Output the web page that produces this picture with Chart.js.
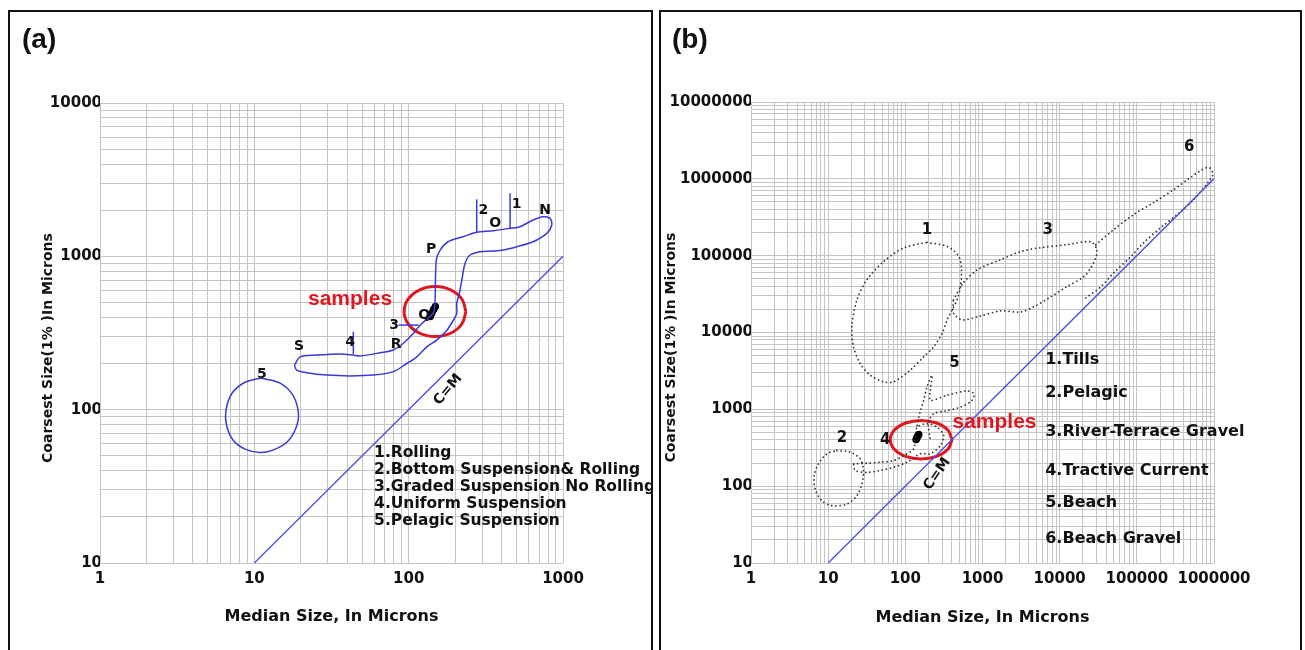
<!DOCTYPE html>
<html>
<head>
<meta charset="utf-8">
<script src="https://cdn.jsdelivr.net/npm/chart.js@4.4.0/dist/chart.umd.min.js"></script>
<style>
  html, body { margin: 0; padding: 0; background: #fff; overflow: hidden; }
  body { width: 1305px; height: 650px; position: relative; }
  .panel { position: absolute; top: 10px; height: 700px; border: 2px solid #111; }
  #panel-a { left: 8px; width: 641px; }
  #panel-b { left: 659px; width: 639px; }
  .panel canvas { position: absolute; left: 0; top: 0; }
  .panel-tag { position: absolute; top: 11px; font: bold 28px "Liberation Sans", Arial, sans-serif; color: #111; z-index: 2; }
</style>
</head>
<body>
<div class="panel" id="panel-a">
  <canvas id="chartA" width="641" height="638"></canvas>
  <div class="panel-tag" style="left:12px">(a)</div>
</div>
<div class="panel" id="panel-b">
  <canvas id="chartB" width="639" height="638"></canvas>
  <div class="panel-tag" style="left:11px">(b)</div>
</div>
<script>
// ==================== data: panel (a) ====================

const tickLabelsAX = [1, 10, 100, 1000];
const tickLabelsAY = [10, 100, 1000, 10000];

// C=M reference line
const cmMedianA = [10, 1000];
const cmCoarsestA = [10, 1000];

// transport field outline (S - R - Q - P - O - N and back)
const fieldMedianA = [18.2, 19.8, 25.4, 35.9, 43.8, 48.4, 65.3, 79.6, 92.4, 107, 119, 144, 148, 151, 160, 180, 225, 276, 352, 454, 527, 640, 743, 825, 846, 785, 640, 502, 411, 352, 290, 250, 232, 221, 213, 205, 205, 195, 177, 152, 131, 113, 97.2, 79.6, 59.0, 41.7, 29.5, 21.9, 18.8, 18.2];
const fieldCoarsestA = [195, 221, 227, 231, 227, 224, 235, 245, 271, 314, 357, 427, 493, 946, 1099, 1245, 1342, 1434, 1469, 1523, 1561, 1726, 1813, 1769, 1600, 1412, 1245, 1155, 1099, 1083, 1072, 1020, 900, 700, 574, 494, 425, 384, 330, 284, 257, 221, 200, 177, 168, 166, 168, 174, 181, 195];

// pelagic suspension loop (5)
const pelagicMedianA = [11.05, 14.7, 17.8, 19.3, 18.6, 16.3, 13.2, 10.9, 8.70, 7.27, 6.60, 6.55, 7.17, 8.70, 11.05];
const pelagicCoarsestA = [161, 149, 124, 95, 75.9, 61.5, 54.5, 52.5, 55.3, 63.4, 79.4, 99.4, 128, 151, 161];

// zone boundary marks
const mark4Median = [43.8, 43.8];
const mark4Coarsest = [231, 322];
const mark3Median = [85.7, 116];
const mark3Coarsest = [356, 356];
const mark2Median = [276, 276];
const mark2Coarsest = [1434, 2353];
const mark1Median = [454, 454];
const mark1Coarsest = [1523, 2576];

// red ring around the samples
const ringMedianA = [235, 221, 187, 148, 118, 99.4, 93.4, 99.4, 118, 148, 187, 221, 235];
const ringCoarsestA = [436, 527, 605, 635, 605, 527, 436, 362, 315, 300, 315, 362, 436];

const zoneLabelsA = ['S', '4', 'R', '3', 'Q', 'P', '2', 'O', '1', 'N', '5'];
const zoneLabelXA = [19.5, 41.7, 82.8, 80.4, 126, 140, 305, 363, 501, 766, 11.2];
const zoneLabelYA = [258, 275, 267, 356, 414, 1110, 2003, 1641, 2193, 1983, 171];

const legendA = ['1.Rolling', '2.Bottom Suspension& Rolling', '3.Graded Suspension No Rolling', '4.Uniform Suspension', '5.Pelagic Suspension'];
const legendXA = 59.7;
const legendYA = [52.1, 40.3, 31.3, 24.2, 18.9];

// ==================== data: panel (b) ====================

const tickLabelsBX = [1, 10, 100, 1000, 10000, 100000, 1000000];
const tickLabelsBY = [10, 100, 1000, 10000, 100000, 1000000, 10000000];

const cmMedianB = [10, 1000000];
const cmCoarsestB = [10, 1000000];

// 1. Tills
const tillsMedian = [191, 348, 493, 534, 518, 469, 404, 348, 300, 233, 173, 116, 70.5, 52.3, 35.1, 26.0, 21.3, 20.3, 23.6, 31.8, 52.3, 95.1, 191];
const tillsCoarsest = [149000, 132000, 98000, 65600, 39700, 26600, 19700, 14600, 9770, 6520, 4830, 3240, 2280, 2280, 2780, 3950, 6520, 11900, 26600, 48500, 84100, 126000, 149000];

// 2. Pelagic
const pelagicMedianB = [13.0, 19.3, 26.0, 28.7, 27.4, 23.6, 17.5, 11.2, 8.28, 6.78, 6.58, 7.48, 9.62, 13.0];
const pelagicCoarsestB = [291, 277, 227, 160, 107, 75.2, 58.5, 55.6, 64.6, 91.9, 137, 195, 264, 291];

// 3. River-Terrace Gravel
const terraceMedian = [420, 567, 861, 1710, 3120, 5670, 12300, 25300, 30300, 29400, 25300, 20500, 12300, 7640, 4590, 3120, 1710, 942, 550, 420, 420];
const terraceCoarsest = [26600, 44400, 65600, 88700, 113000, 127000, 139000, 152000, 120000, 94100, 69700, 53100, 39300, 29100, 21500, 18500, 19100, 16400, 14600, 18000, 26600];

// 4. Tractive Current
const tractiveMedian = [21.3, 31.8, 47.4, 70.5, 105, 128, 135, 142, 191, 258, 314, 285, 211, 157, 105, 70.5, 47.4, 31.8, 22.4, 21.3];
const tractiveCoarsest = [195, 199, 205, 215, 264, 306, 434, 587, 650, 587, 457, 338, 264, 264, 205, 176, 160, 151, 160, 195];

// 5. Beach
const beachMedian = [142, 157, 173, 191, 222, 211, 211, 348, 633, 771, 735, 518, 331, 233, 199, 211];
const beachCoarsest = [618, 970, 1312, 1960, 2780, 1770, 1312, 1524, 1734, 1604, 1312, 1072, 950, 879, 676, 394];

// 6. Beach Gravel
const gravelMedian = [29400, 50200, 91400, 166000, 303000, 460000, 678000, 861000, 971000, 836000, 550000, 373000, 205000, 123000, 83600, 50200, 34100, 21800];
const gravelCoarsest = [139000, 219000, 344000, 493000, 729000, 985000, 1290000, 1410000, 1150000, 900000, 540000, 376000, 232000, 148000, 97000, 60000, 39300, 28200];

const ringMedianB = [403, 356, 254, 160, 101, 72.1, 63.8, 72.1, 101, 160, 254, 356, 403];
const ringCoarsestB = [403, 538, 664, 718, 664, 538, 403, 302, 244, 226, 244, 302, 403];

const zoneLabelsB = ['1', '3', '6', '5', '2', '4'];
const zoneLabelXB = [191, 6980, 478000, 433, 15.1, 55.0];
const zoneLabelYB = [215000, 215000, 2560000, 4030, 427, 394];

const legendB = ['1.Tills', '2.Pelagic', '3.River-Terrace Gravel', '4.Tractive Current', '5.Beach', '6.Beach Gravel'];
const legendXB = 6500;
const legendYB = [4370, 1620, 515, 160, 60.9, 20.6];

// samples (same points on both panels)
const sampleMedian = [138, 141, 145, 149];
const sampleCoarsest = [405, 425, 450, 470];

// ==================== styles ====================

const FONT = '"DejaVu Sans", Verdana, sans-serif';
const gridColor = '#c4c4c4';
const blue = '#3a3ad8';
const red = '#e2161f';
const ink = '#111';

// log grid values 1..9 x 10^n
function logGrid(min, max) {
  const values = [];
  for (let e = Math.round(Math.log10(min)); Math.pow(10, e) < max; e++) {
    for (let k = 1; k < 10; k++) values.push(k * Math.pow(10, e));
  }
  values.push(max);
  return values;
}

function toPoints(xs, ys) {
  return xs.map((x, i) => ({ x, y: ys[i] }));
}

function solid(xs, ys, color, width, tension) {
  return {
    data: toPoints(xs, ys), showLine: true, pointRadius: 0,
    borderColor: color, borderWidth: width, tension: tension, fill: false
  };
}

function dotted(xs, ys) {
  return {
    data: toPoints(xs, ys), showLine: true, pointRadius: 0,
    borderColor: '#333', borderWidth: 1.8, borderDash: [0.01, 4.2],
    borderCapStyle: 'round', tension: 0.3, fill: false
  };
}

function samplesSet() {
  return {
    data: toPoints(sampleMedian, sampleCoarsest), showLine: false,
    pointRadius: 3.8, pointBackgroundColor: '#000', pointBorderWidth: 0
  };
}

// text written at data coordinates
function notesPlugin(notes, yTitle) {
  return {
    id: 'notes',
    afterDatasetsDraw(chart) {
      const { ctx, chartArea, scales } = chart;
      ctx.save();
      notes.forEach(n => {
        ctx.save();
        ctx.translate(scales.x.getPixelForValue(n.x), scales.y.getPixelForValue(n.y));
        if (n.rotate) ctx.rotate(n.rotate * Math.PI / 180);
        ctx.font = n.font;
        ctx.fillStyle = n.color || ink;
        ctx.textAlign = n.align || 'center';
        ctx.textBaseline = 'middle';
        ctx.fillText(n.text, 0, 0);
        ctx.restore();
      });
      // y axis title
      ctx.translate(chartArea.left + yTitle.dx, (chartArea.top + chartArea.bottom) / 2 + yTitle.dy);
      ctx.rotate(-Math.PI / 2);
      ctx.font = 'bold 14px ' + FONT;
      ctx.fillStyle = ink;
      ctx.textAlign = 'center';
      ctx.textBaseline = 'middle';
      ctx.fillText('Coarsest Size(1% )In Microns', 0, 0);
      ctx.restore();
    }
  };
}

function buildOptions(cfg) {
  const tickFont = { family: FONT, size: 15, weight: 'bold' };
  return {
    responsive: false,
    animation: false,
    devicePixelRatio: 1,
    layout: { padding: { left: 0, top: cfg.top, right: cfg.right, bottom: 0 } },
    plugins: { legend: { display: false }, tooltip: { enabled: false } },
    scales: {
      x: {
        type: 'logarithmic', min: cfg.xMin, max: cfg.xMax,
        afterBuildTicks: s => { s.ticks = logGrid(cfg.xMin, cfg.xMax).map(v => ({ value: v })); },
        afterFit: s => { s.height = 87; },
        grid: { color: gridColor, lineWidth: 1, drawTicks: false },
        border: { display: false },
        ticks: {
          autoSkip: false, maxRotation: 0, minRotation: 0, padding: 7,
          color: ink, font: tickFont,
          callback: v => cfg.xLabels.includes(v) ? String(v) : ''
        },
        title: {
          display: true, text: 'Median Size, In Microns', color: ink,
          font: { family: FONT, size: 16, weight: 'bold' },
          padding: { top: 0, bottom: cfg.titleBottom }
        }
      },
      y: {
        type: 'logarithmic', min: cfg.yMin, max: cfg.yMax,
        afterBuildTicks: s => { s.ticks = logGrid(cfg.yMin, cfg.yMax).map(v => ({ value: v })); },
        afterFit: s => { s.width = 90; },
        grid: { color: gridColor, lineWidth: 1, drawTicks: false },
        border: { display: false },
        ticks: {
          autoSkip: false, padding: -2, color: ink, font: tickFont,
          callback: v => cfg.yLabels.includes(v) ? String(v) : ''
        }
      }
    }
  };
}

// ==================== panel (a) ====================

const notesA = [];
zoneLabelsA.forEach((t, i) => notesA.push({ text: t, x: zoneLabelXA[i], y: zoneLabelYA[i], font: 'bold 14px ' + FONT }));
legendA.forEach((t, i) => notesA.push({ text: t, x: legendXA, y: legendYA[i], font: 'bold 15.5px ' + FONT, align: 'left' }));
notesA.push({ text: 'samples', x: 41.7, y: 526, font: 'bold 21px "Liberation Sans", Arial, sans-serif', color: red });
notesA.push({ text: 'C=M', x: 180, y: 135, font: 'bold 14px ' + FONT, rotate: -50 });

new Chart(document.getElementById('chartA'), {
  type: 'scatter',
  data: {
    datasets: [
      solid(cmMedianA, cmCoarsestA, '#4a4ae8', 1.3, 0),
      solid(fieldMedianA, fieldCoarsestA, blue, 1.5, 0.3),
      solid(pelagicMedianA, pelagicCoarsestA, blue, 1.5, 0.35),
      solid(mark4Median, mark4Coarsest, blue, 1.5, 0),
      solid(mark3Median, mark3Coarsest, blue, 1.5, 0),
      solid(mark2Median, mark2Coarsest, blue, 1.5, 0),
      solid(mark1Median, mark1Coarsest, blue, 1.5, 0),
      solid(ringMedianA, ringCoarsestA, red, 3, 0.4),
      samplesSet()
    ]
  },
  options: buildOptions({
    xMin: 1, xMax: 1000, yMin: 10, yMax: 10000,
    xLabels: tickLabelsAX, yLabels: tickLabelsAY,
    top: 91, right: 88, titleBottom: 24
  }),
  plugins: [notesPlugin(notesA, { dx: -52, dy: 15 })]
});

// ==================== panel (b) ====================

const notesB = [];
zoneLabelsB.forEach((t, i) => notesB.push({ text: t, x: zoneLabelXB[i], y: zoneLabelYB[i], font: 'bold 15px ' + FONT }));
legendB.forEach((t, i) => notesB.push({ text: t, x: legendXB, y: legendYB[i], font: 'bold 16px ' + FONT, align: 'left' }));
notesB.push({ text: 'samples', x: 1430, y: 676, font: 'bold 21px "Liberation Sans", Arial, sans-serif', color: red });
notesB.push({ text: 'C=M', x: 258, y: 144, font: 'bold 14px ' + FONT, rotate: -55 });

new Chart(document.getElementById('chartB'), {
  type: 'scatter',
  data: {
    datasets: [
      solid(cmMedianB, cmCoarsestB, '#4a4ae8', 1.3, 0),
      dotted(tillsMedian, tillsCoarsest),
      dotted(pelagicMedianB, pelagicCoarsestB),
      dotted(terraceMedian, terraceCoarsest),
      dotted(tractiveMedian, tractiveCoarsest),
      dotted(beachMedian, beachCoarsest),
      dotted(gravelMedian, gravelCoarsest),
      solid(ringMedianB, ringCoarsestB, red, 3, 0.4),
      samplesSet()
    ]
  },
  options: buildOptions({
    xMin: 1, xMax: 1000000, yMin: 10, yMax: 10000000,
    xLabels: tickLabelsBX, yLabels: tickLabelsBY,
    top: 90, right: 86, titleBottom: 23
  }),
  plugins: [notesPlugin(notesB, { dx: -80, dy: 15 })]
});
</script>
</body>
</html>
